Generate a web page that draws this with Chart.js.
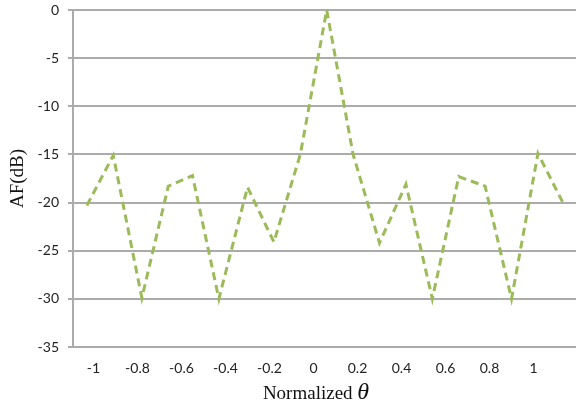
<!DOCTYPE html>
<html>
<head>
<meta charset="utf-8">
<script src="https://cdn.jsdelivr.net/npm/chart.js@4/dist/chart.umd.min.js"></script>
<style>
  html, body { margin: 0; padding: 0; background: #fff; }
  #wrap { width: 576px; height: 405px; position: relative; }
</style>
</head>
<body>
<div id="wrap"><canvas id="afChart"></canvas></div>
<script>
// values
const thetaValues = [-1.03, -0.91, -0.78, -0.66, -0.55, -0.43, -0.30, -0.18, -0.06, 0.06,
                     0.18, 0.30, 0.42, 0.54, 0.66, 0.78, 0.90, 1.02, 1.14];
const afValues = [-20.3, -15.1, -29.9, -18.3, -17.2, -30, -18.4, -24.1, -15, 0,
                  -15, -24.2, -18.1, -30, -17.3, -18.3, -30, -14.9, -20.3];
const xTickValues = [-1, -0.8, -0.6, -0.4, -0.2, 0, 0.2, 0.4, 0.6, 0.8, 1];
const xTickLabels = ["-1", "-0.8", "-0.6", "-0.4", "-0.2", "0", "0.2", "0.4", "0.6", "0.8", "1"];

const gridColor = "#ababab";
const tickFont = { family: "Lato", size: 14 };

// x title drawn by hand so the theta can be italic
const xTitlePlugin = {
  id: "xTitle",
  afterDraw(chart) {
    const ctx = chart.ctx;
    ctx.save();
    ctx.fillStyle = "#111";
    ctx.textBaseline = "alphabetic";
    ctx.font = "19px 'Liberation Serif'";
    const word = "Normalized ";
    const w1 = ctx.measureText(word).width;
    ctx.font = "italic 24px 'Liberation Serif'";
    const w2 = ctx.measureText("\u03b8").width;
    const x0 = 316 - (w1 + w2) / 2;
    ctx.font = "19px 'Liberation Serif'";
    ctx.fillText(word, x0, 398.5);
    ctx.font = "italic 24px 'Liberation Serif'";
    ctx.fillText("\u03b8", x0 + w1, 398.5);
    ctx.restore();
  },
};

const ctx = document.getElementById("afChart");

new Chart(ctx, {
  type: "line",
  data: {
    datasets: [{
      label: "AF",
      data: thetaValues.map((t, i) => ({ x: t, y: afValues[i] })),
      borderColor: "#9bbb59",
      borderWidth: 3,
      borderDash: [8, 5],
      pointRadius: 0,
      fill: false,
      tension: 0,
    }],
  },
  options: {
    responsive: true,
    maintainAspectRatio: false,
    animation: false,
    layout: { padding: 0 },
    plugins: {
      legend: { display: false },
      tooltip: { enabled: false },
    },
    scales: {
      x: {
        type: "linear",
        min: -1.093,
        max: 1.193,
        afterBuildTicks(scale) {
          scale.ticks = xTickValues.map((v) => ({ value: v }));
        },
        afterFit(scale) {
          scale.height = 58;
        },
        grid: { display: false, drawTicks: false },
        border: { display: true, color: gridColor, width: 2 },
        ticks: {
          font: tickFont,
          color: "#222",
          padding: 13,
          maxRotation: 0,
          autoSkip: false,
          callback: (v, i) => xTickLabels[i],
        },
      },
      y: {
        min: -35,
        max: 0,
        afterFit(scale) {
          scale.width = 73;
          scale.paddingTop = 10;
          scale.paddingBottom = 0;
        },
        grid: { color: gridColor, lineWidth: 2, tickLength: 5 },
        border: { display: true, color: gridColor, width: 2 },
        ticks: {
          stepSize: 5,
          font: tickFont,
          color: "#222",
          padding: 9,
        },
        title: {
          display: true,
          text: "AF(dB)",
          font: { family: "Liberation Serif", size: 19 },
          color: "#111",
          padding: { top: 7, bottom: 0 },
        },
      },
    },
  },
  plugins: [xTitlePlugin],
});
</script>
</body>
</html>
